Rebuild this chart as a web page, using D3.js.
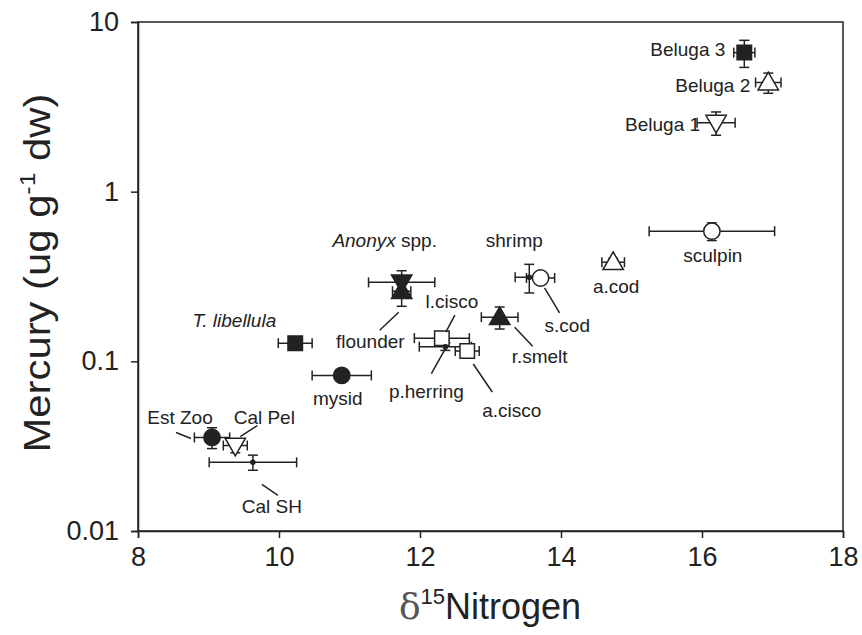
<!DOCTYPE html>
<html><head><meta charset="utf-8">
<script src="https://cdn.jsdelivr.net/npm/d3@7"></script>
<style>
body{margin:0;background:#fff;}
text{font-family:"Liberation Sans",Arial,sans-serif;fill:#222;}
</style></head>
<body>
<svg id="chart" width="862" height="635"></svg>
<script>
// ---- data ----
const names  = ["Beluga 3","Beluga 2","Beluga 1","sculpin","a.cod","s.cod","shrimp","r.smelt","a.cisco","l.cisco","p.herring","flounder","Anonyx","T. libellula","mysid","Est Zoo","Cal Pel","Cal SH"];
const d15N   = [16.60,16.94,16.20,16.14,14.74,13.71,13.55,13.13,12.67,12.31,12.36,11.74,11.74,10.23,10.89,9.05,9.38,9.63];
const mercury= [6.6,4.4,2.55,0.585,0.384,0.31,0.313,0.182,0.115,0.137,0.122,0.259,0.292,0.128,0.0826,0.0356,0.0319,0.0254];
const xErr   = [0.15,0.18,0.27,0.89,0.16,0.20,0.20,0.26,0.17,0.39,0.37,0.13,0.47,0.24,0.42,0.25,0.17,0.62];
const yErr   = [1.2,0.6,0.4,0.07,0.02,0.02,0.06,0.027,0.008,0.008,0.006,0.048,0.05,0.008,0.005,0.005,0.003,0.0026];
const markers= ["squareF","triUpO","triDnO","circleO","triUpO","circleO","dot","triUpF","squareO","squareO","dot","triUpF","triDnF","squareF","circleF","circleF","triDnO","dot"];
const xTicks = [8,10,12,14,16,18];
const yTicks = [0.01,0.1,1,10];
const yTickLabels = ["0.01","0.1","1","10"];

// label placement (pixel offsets from the point) and leader lines
const labels = [
 {n:"Beluga 3", dx:-19, dy:3, a:"end"},
 {n:"Beluga 2", dx:-18, dy:10, a:"end"},
 {n:"Beluga 1", dx:-16, dy:8, a:"end"},
 {n:"sculpin", dx:1, dy:31, a:"middle"},
 {n:"a.cod", dx:3, dy:31, a:"middle"},
 {n:"s.cod", dx:4, dy:54, a:"start", l:[4,10,19,35]},
 {n:"shrimp", dx:-15, dy:-30, a:"middle"},
 {n:"r.smelt", dx:12, dy:46, a:"start", l:[15,10,33,29]},
 {n:"a.cisco", dx:15, dy:66, a:"start", l:[6,13,25,41]},
 {n:"l.cisco", dx:10, dy:-30, a:"middle", l:[4,-6,13,-23]},
 {n:"p.herring", dx:-19, dy:51, a:"middle", l:[0,2,-14,27]},
 {n:"flounder", dx:3, dy:57, a:"end", l:[-3,21,-22,39]},
 {n:"Anonyx", dx:-17, dy:-35, a:"middle", italic:"Anonyx", rest:" spp."},
 {n:"T. libellula", dx:-19, dy:-16, a:"end", italic:"T. libellula", rest:""},
 {n:"mysid", dx:-4, dy:30, a:"middle"},
 {n:"Est Zoo", dx:-32, dy:-13, a:"middle", l:[-36,-5,-21,1]},
 {n:"Cal Pel", dx:29, dy:-22, a:"middle", l:[22,-20,5,-9]},
 {n:"Cal SH", dx:19, dy:51, a:"middle", l:[25,33,9,22]}
];

// ---- layout ----
const L=138, R=843, T=22, B=531;
const svg = d3.select("#chart");
const x = d3.scaleLinear().domain([8,18]).range([L,R]);
const y = d3.scaleLog().domain([0.01,10]).range([B,T]);
const ink = "#222";

// frame
svg.append("rect").attr("x",L).attr("y",T).attr("width",R-L).attr("height",B-T)
  .attr("fill","none").attr("stroke",ink).attr("stroke-width",1.5);

// axes
const xAxis = svg.append("g").attr("transform",`translate(0,${B})`)
  .call(d3.axisBottom(x).tickValues(xTicks).tickSize(7).tickPadding(9).tickFormat(d3.format("d")));
const yAxis = svg.append("g").attr("transform",`translate(${L},0)`)
  .call(d3.axisLeft(y).tickValues(yTicks).tickSize(7).tickPadding(12).tickFormat((d,i)=>yTickLabels[i]));
[xAxis,yAxis].forEach(g=>{
  g.select(".domain").attr("stroke",ink).attr("stroke-width",1.5);
  g.selectAll(".tick line").attr("stroke",ink).attr("stroke-width",1.5);
  g.selectAll(".tick text").attr("font-size",27).attr("fill","#222")
    .attr("font-family","'Liberation Sans',Arial,sans-serif");
});

// axis titles
const xt = svg.append("text").attr("x",490).attr("y",619).attr("text-anchor","middle").attr("font-size",36);
xt.append("tspan").text("δ").attr("font-family","'DejaVu Serif',serif").attr("fill","#555");
xt.append("tspan").text("15").attr("font-size",22).attr("dy",-15);
xt.append("tspan").text("Nitrogen").attr("dy",15);

const yt = svg.append("text").attr("transform",`translate(50,${273}) rotate(-90) scale(1.13,1)`)
  .attr("text-anchor","middle").attr("font-size",37);
yt.append("tspan").text("Mercury (ug g");
yt.append("tspan").text("-1").attr("font-size",22).attr("dy",-15);
yt.append("tspan").text(" dw)").attr("dy",15);

// data rows
const rows = names.map((n,i)=>({n, x:d15N[i], y:mercury[i], ex:xErr[i], ey:yErr[i], m:markers[i]}));

// error bars
const cap = 5;
const eb = svg.append("g").attr("stroke",ink).attr("stroke-width",1.5).attr("fill","none");
rows.forEach(d=>{
  const cx=x(d.x), cy=y(d.y);
  const x1=x(d.x-d.ex), x2=x(d.x+d.ex);
  const y1=y(d.y+d.ey), y2=y(d.y-d.ey);
  eb.append("line").attr("x1",x1).attr("x2",x2).attr("y1",cy).attr("y2",cy);
  eb.append("line").attr("x1",x1).attr("x2",x1).attr("y1",cy-cap).attr("y2",cy+cap);
  eb.append("line").attr("x1",x2).attr("x2",x2).attr("y1",cy-cap).attr("y2",cy+cap);
  eb.append("line").attr("x1",cx).attr("x2",cx).attr("y1",y1).attr("y2",y2);
  eb.append("line").attr("x1",cx-cap).attr("x2",cx+cap).attr("y1",y1).attr("y2",y1);
  eb.append("line").attr("x1",cx-cap).attr("x2",cx+cap).attr("y1",y2).attr("y2",y2);
});

// markers
const mk = svg.append("g");
const symMap = {square:d3.symbolSquare, circle:d3.symbolCircle, triUp:d3.symbolTriangle, triDn:d3.symbolTriangle};
const sizeMap = {square:210, circle:210, triUp:180, triDn:180};
rows.forEach(d=>{
  const cx=x(d.x), cy=y(d.y);
  if(d.m==="dot"){
    mk.append("circle").attr("cx",cx).attr("cy",cy).attr("r",2.8).attr("fill",ink);
    return;
  }
  const filled = d.m.endsWith("F");
  const shape = d.m.slice(0,-1);
  const p = d3.symbol().type(symMap[shape]).size(sizeMap[shape])();
  const rot = shape==="triDn" ? " rotate(180)" : "";
  const dy = shape==="triUp" ? 1.5 : (shape==="triDn" ? -1.5 : 0);
  mk.append("path").attr("d",p).attr("transform",`translate(${cx},${cy+dy})${rot}`)
    .attr("fill",filled?ink:"#fff").attr("stroke",ink).attr("stroke-width",1.5);
});

// labels and leader lines
const lab = svg.append("g");
labels.forEach(lb=>{
  const d = rows.find(r=>r.n===lb.n);
  const cx=x(d.x), cy=y(d.y);
  const t = lab.append("text").attr("x",cx+lb.dx).attr("y",cy+lb.dy).attr("text-anchor",lb.a).attr("font-size",19);
  if(lb.italic){
    t.append("tspan").text(lb.italic).attr("font-style","italic");
    if(lb.rest) t.append("tspan").text(lb.rest);
  } else t.text(lb.n);
  if(lb.l){
    lab.append("line").attr("x1",cx+lb.l[0]).attr("y1",cy+lb.l[1]).attr("x2",cx+lb.l[2]).attr("y2",cy+lb.l[3])
      .attr("stroke",ink).attr("stroke-width",1.5);
  }
});
</script>
</body></html>
